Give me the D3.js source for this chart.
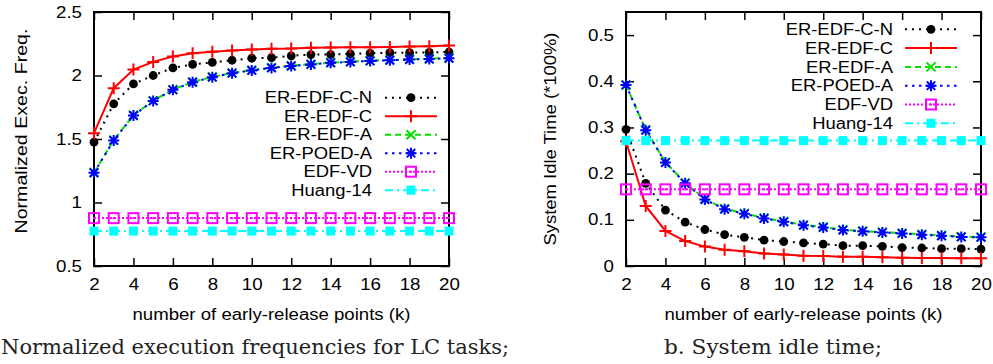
<!DOCTYPE html>
<html>
<head>
<meta charset="utf-8">
<script src="https://cdn.jsdelivr.net/npm/d3@7"></script>
<style>
  html, body { margin: 0; padding: 0; background: #fff; }
  svg { display: block; }
  text { font-family: "Liberation Sans", Arial, Helvetica, sans-serif; fill: #000; }
  .cap { font-family: "DejaVu Serif", "Liberation Serif", serif; fill: #222; }
</style>
</head>
<body>
<svg id="chart" width="993" height="364"></svg>
<script>
// ---------------- DATA ----------------
const kValues = [2, 3, 4, 5, 6, 7, 8, 9, 10, 11, 12, 13, 14, 15, 16, 17, 18, 19, 20];
const xTickValues = [2, 4, 6, 8, 10, 12, 14, 16, 18, 20];
const seriesNames = ["ER-EDF-C-N", "ER-EDF-C", "ER-EDF-A", "ER-POED-A", "EDF-VD", "Huang-14"];

// (a) Normalized execution frequency
const freqYTicks = [0.5, 1, 1.5, 2, 2.5];
const freqCN    = [1.475, 1.777, 1.934, 2.000, 2.060, 2.087, 2.103, 2.120, 2.136, 2.140, 2.155, 2.165, 2.165, 2.170, 2.175, 2.180, 2.180, 2.182, 2.185];
const freqC     = [1.546, 1.900, 2.047, 2.107, 2.150, 2.175, 2.187, 2.197, 2.205, 2.210, 2.212, 2.218, 2.220, 2.222, 2.223, 2.225, 2.228, 2.231, 2.236];
const freqA     = [1.236, 1.491, 1.687, 1.802, 1.889, 1.949, 1.989, 2.020, 2.042, 2.062, 2.077, 2.089, 2.102, 2.109, 2.117, 2.122, 2.128, 2.132, 2.138];
const freqPOED  = [1.234, 1.489, 1.685, 1.800, 1.887, 1.947, 1.987, 2.018, 2.040, 2.060, 2.075, 2.087, 2.100, 2.107, 2.115, 2.120, 2.126, 2.130, 2.136];
const freqVD    = [0.877, 0.877, 0.877, 0.877, 0.877, 0.877, 0.877, 0.877, 0.877, 0.877, 0.877, 0.877, 0.877, 0.877, 0.877, 0.877, 0.877, 0.877, 0.877];
const freqHuang = [0.775, 0.775, 0.775, 0.775, 0.775, 0.775, 0.775, 0.775, 0.775, 0.775, 0.775, 0.775, 0.775, 0.775, 0.775, 0.775, 0.775, 0.775, 0.775];

// (b) System idle time
const idleYTicks = [0, 0.1, 0.2, 0.3, 0.4, 0.5];
const idleCN    = [0.296, 0.179, 0.121, 0.095, 0.079, 0.068, 0.062, 0.056, 0.053, 0.050, 0.0475, 0.044, 0.044, 0.0425, 0.040, 0.039, 0.0375, 0.0375, 0.0367];
const idleC     = [0.270, 0.130, 0.076, 0.054, 0.042, 0.035, 0.032, 0.027, 0.025, 0.022, 0.0216, 0.020, 0.020, 0.0187, 0.018, 0.0175, 0.0175, 0.017, 0.0166];
const idleA     = [0.392, 0.295, 0.225, 0.180, 0.145, 0.124, 0.114, 0.104, 0.0965, 0.089, 0.0843, 0.0785, 0.0757, 0.0734, 0.0712, 0.0684, 0.0662, 0.0637, 0.0627];
const idlePOED  = [0.392, 0.294, 0.224, 0.179, 0.144, 0.123, 0.113, 0.103, 0.0957, 0.088, 0.0835, 0.0778, 0.075, 0.0727, 0.0705, 0.0677, 0.0655, 0.063, 0.062];
const idleVD    = [0.166, 0.166, 0.166, 0.166, 0.166, 0.166, 0.166, 0.166, 0.166, 0.166, 0.166, 0.166, 0.166, 0.166, 0.166, 0.166, 0.166, 0.166, 0.166];
const idleHuang = [0.2715, 0.2715, 0.2715, 0.2715, 0.2715, 0.2715, 0.2715, 0.2715, 0.2715, 0.2715, 0.2715, 0.2715, 0.2715, 0.2715, 0.2715, 0.2715, 0.2715, 0.2715, 0.2715];

// ---------------- STYLES ----------------
const styles = [
  { color: "#000000", dash: "2,5",     marker: "circle" },
  { color: "#ff0000", dash: null,      marker: "plus" },
  { color: "#00e000", dash: "6,4",     marker: "x" },
  { color: "#0000ff", dash: "2.5,4.5", marker: "star" },
  { color: "#ff00ff", dash: "2,2",     marker: "osquare" },
  { color: "#00ffff", dash: "8,4,2,4", marker: "fsquare" }
];

const svg = d3.select("#chart");

// horizontally widen a text element (the reference figure is stretched sideways)
function widen(sel, factor) {
  sel.each(function () {
    const w = this.getComputedTextLength();
    if (w > 0) d3.select(this).attr("textLength", w * factor).attr("lengthAdjust", "spacingAndGlyphs");
  });
}
function toWidth(sel, target) {
  sel.attr("textLength", target).attr("lengthAdjust", "spacingAndGlyphs");
}

function drawMarker(g, type, color, cx, cy) {
  const t = `translate(${cx},${cy})`;
  if (type === "circle") {
    g.append("circle").attr("cx", cx).attr("cy", cy).attr("r", 4.4).attr("fill", color);
  } else if (type === "plus") {
    g.append("path").attr("transform", t).attr("d", "M-6,0H6M0,-6V6")
      .attr("stroke", color).attr("stroke-width", 2).attr("fill", "none");
  } else if (type === "x") {
    g.append("path").attr("transform", t).attr("d", "M-4.5,-4.5L4.5,4.5M-4.5,4.5L4.5,-4.5")
      .attr("stroke", color).attr("stroke-width", 2).attr("fill", "none");
  } else if (type === "star") {
    g.append("path").attr("transform", t)
      .attr("d", "M-5.5,0H5.5M0,-5.5V5.5M-4.2,-4.2L4.2,4.2M-4.2,4.2L4.2,-4.2")
      .attr("stroke", color).attr("stroke-width", 2).attr("fill", "none");
  } else if (type === "osquare") {
    g.append("rect").attr("x", cx - 5).attr("y", cy - 5).attr("width", 10).attr("height", 10)
      .attr("stroke", color).attr("stroke-width", 2).attr("fill", "none");
    g.append("rect").attr("x", cx - 1).attr("y", cy - 1).attr("width", 2).attr("height", 2).attr("fill", color);
  } else if (type === "fsquare") {
    g.append("rect").attr("x", cx - 4.5).attr("y", cy - 4.5).attr("width", 9).attr("height", 9).attr("fill", color);
  }
}

function drawPanel(cfg) {
  const x = d3.scaleLinear().domain([2, 20]).range([cfg.left, cfg.right]);
  const y = d3.scaleLinear().domain(cfg.yDomain).range([cfg.bottom, cfg.top]);
  const g = svg.append("g");

  const tickStyle = sel => {
    sel.select(".domain").remove();
    sel.selectAll(".tick line").attr("stroke", "#000").attr("stroke-width", 1.5);
    sel.selectAll(".tick text").attr("font-size", 16).attr("fill", "#000")
      .attr("font-family", '"Liberation Sans", Arial, Helvetica, sans-serif')
      .call(widen, 1.17);
  };

  g.append("g").attr("transform", `translate(0,${cfg.bottom})`)
    .call(d3.axisBottom(x).tickValues(xTickValues).tickSize(-8).tickPadding(13).tickFormat(d3.format("d")))
    .call(tickStyle);
  g.append("g").attr("transform", `translate(0,${cfg.top})`)
    .call(d3.axisTop(x).tickValues(xTickValues).tickSize(-8).tickFormat(""))
    .call(tickStyle);
  g.append("g").attr("transform", `translate(${cfg.left},0)`)
    .call(d3.axisLeft(y).tickValues(cfg.yTicks).tickSize(-8).tickPadding(12).tickFormat(cfg.yFormat))
    .call(tickStyle);
  g.append("g").attr("transform", `translate(${cfg.right},0)`)
    .call(d3.axisRight(y).tickValues(cfg.yTicks).tickSize(-8).tickFormat(""))
    .call(tickStyle);

  g.append("rect").attr("x", cfg.left).attr("y", cfg.top)
    .attr("width", cfg.right - cfg.left).attr("height", cfg.bottom - cfg.top)
    .attr("fill", "none").attr("stroke", "#000").attr("stroke-width", 2);

  // legend
  const lg = g.append("g");
  cfg.series.forEach((vals, i) => {
    const st = styles[i];
    const ly = cfg.legY + i * cfg.legStep;
    lg.append("text").attr("x", cfg.legTextX).attr("y", ly).attr("dy", "0.35em")
      .attr("text-anchor", "end").attr("font-size", 16).text(seriesNames[i]).call(widen, 1.15);
    lg.append("line").attr("x1", cfg.legLineX1).attr("x2", cfg.legLineX2).attr("y1", ly).attr("y2", ly)
      .attr("stroke", st.color).attr("stroke-width", 2).attr("stroke-dasharray", st.dash);
    drawMarker(lg, st.marker, st.color, (cfg.legLineX1 + cfg.legLineX2) / 2, ly);
  });

  // series
  const line = d3.line().x(d => x(d.k)).y(d => y(d.v));
  cfg.series.forEach((vals, i) => {
    const st = styles[i];
    const data = kValues.map((k, j) => ({ k, v: vals[j] }));
    const sg = g.append("g");
    sg.append("path").datum(data).attr("d", line).attr("fill", "none")
      .attr("stroke", st.color).attr("stroke-width", 2).attr("stroke-dasharray", st.dash);
    data.forEach(d => drawMarker(sg, st.marker, st.color, x(d.k), y(d.v)));
  });

  // axis labels
  g.append("text").attr("x", (cfg.left + cfg.right) / 2).attr("y", 320)
    .attr("text-anchor", "middle").attr("font-size", 16).text("number of early-release points (k)")
    .call(toWidth, 278);
  g.append("text").attr("transform", `translate(${cfg.yLabelX},${cfg.yLabelY}) rotate(-90)`)
    .attr("text-anchor", "middle").attr("font-size", 17).text(cfg.yLabel)
    .call(toWidth, cfg.yLabelLen);
}

drawPanel({
  left: 94, right: 449, top: 12, bottom: 266,
  yDomain: [0.5, 2.5], yTicks: freqYTicks, yFormat: d3.format("~g"),
  series: [freqCN, freqC, freqA, freqPOED, freqVD, freqHuang],
  legY: 97.7, legStep: 18.5, legTextX: 372, legLineX1: 385, legLineX2: 437,
  yLabel: "Normalized Exec. Freq.", yLabelX: 27, yLabelY: 131, yLabelLen: 205
});

drawPanel({
  left: 626, right: 981, top: 12, bottom: 266,
  yDomain: [0, 0.55], yTicks: idleYTicks, yFormat: d3.format("~g"),
  series: [idleCN, idleC, idleA, idlePOED, idleVD, idleHuang],
  legY: 29.3, legStep: 18.8, legTextX: 893, legLineX1: 905, legLineX2: 957,
  yLabel: "System Idle Time (*100%)", yLabelX: 556, yLabelY: 139, yLabelLen: 213
});

// captions
svg.append("text").attr("class", "cap").attr("x", 1).attr("y", 354).attr("font-size", 21)
  .text("Normalized execution frequencies for LC tasks;");
svg.append("text").attr("class", "cap").attr("x", 664).attr("y", 354).attr("font-size", 21)
  .text("b. System idle time;").call(toWidth, 218);
</script>
</body>
</html>
